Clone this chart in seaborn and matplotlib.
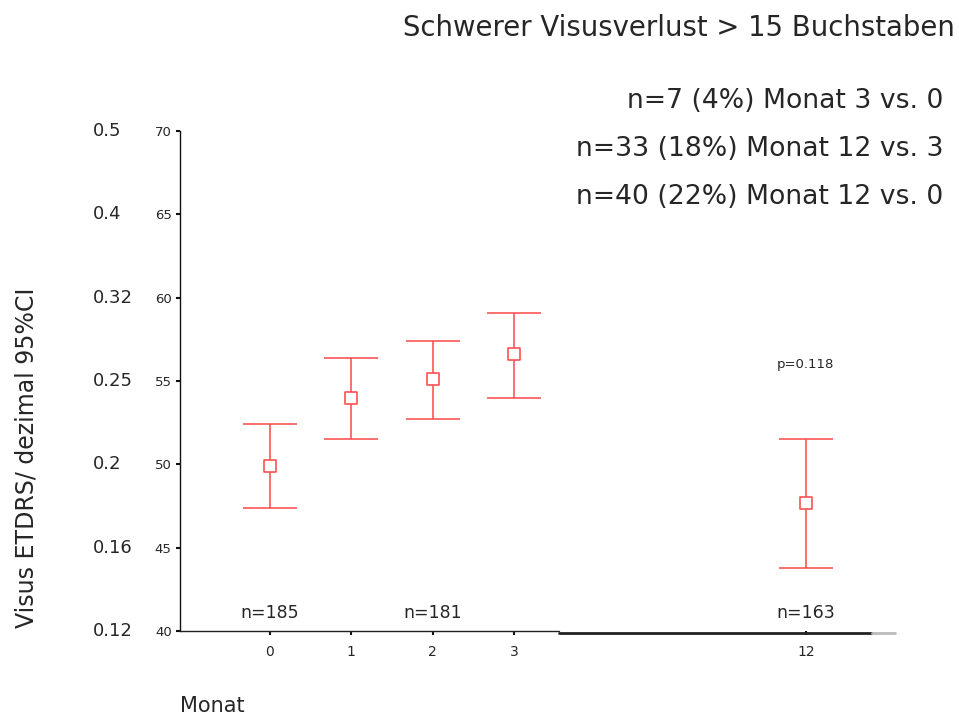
import matplotlib
matplotlib.use("Agg")
import matplotlib.pyplot as plt
import matplotlib.transforms as mtransforms
import seaborn as sns
import pandas as pd

# Visual acuity (ETDRS letters) per follow-up month with 95% CI
months = [0, 1, 2, 3, 12]
mean_letters = [49.9, 54.0, 55.1, 56.6, 47.7]
ci_low = [47.4, 51.5, 52.7, 54.0, 43.8]
ci_high = [52.4, 56.4, 57.4, 59.1, 51.5]

y_ticks = [40, 45, 50, 55, 60, 65, 70]
decimal_labels = ["0.12", "0.16", "0.2", "0.25", "0.32", "0.4", "0.5"]

n_labels = {0: "n=185", 2: "n=181", 12: "n=163"}
p_label = "p=0.118"

title = "Schwerer Visusverlust > 15 Buchstaben"
comparisons = [
    "n=7 (4%) Monat 3 vs. 0",
    "n=33 (18%) Monat 12 vs. 3",
    "n=40 (22%) Monat 12 vs. 0",
]


def month_pos(m):
    # broken time axis: months 0-3 evenly spaced, gap compressed afterwards
    return m if m <= 3 else 3 + (m - 3) * 0.399


sns.set_theme(style="white")
plt.rcParams["font.family"] = ["DejaVu Sans"]
TEXT = "#262626"
RED = "#ff5252"

fig = plt.figure(figsize=(9.59, 7.18), dpi=100)
ax = fig.add_axes([180 / 959, 87 / 718, 715 / 959, 500 / 718])

df = pd.DataFrame({
    "pos": [month_pos(m) for m in months],
    "mean": mean_letters,
    "lo": ci_low,
    "hi": ci_high,
})

ax.errorbar(df["pos"], df["mean"],
            yerr=[df["mean"] - df["lo"], df["hi"] - df["mean"]],
            fmt="none", ecolor=RED, elinewidth=1.3, capsize=19.5,
            capthick=1.3, alpha=0.9, zorder=2)
sns.scatterplot(data=df, x="pos", y="mean", marker="s", s=70,
                facecolor="white", edgecolor=RED, linewidth=1.2,
                ax=ax, zorder=3, legend=False)

x0 = -90 / 81.3
ax.set_xlim(x0, x0 + 715 / 81.3)
ax.set_ylim(40, 70)

# axes frame
for side in ["top", "right", "bottom"]:
    ax.spines[side].set_visible(False)
ax.spines["left"].set_color("#111111")
ax.spines["left"].set_linewidth(1.0)

ax.set_yticks(y_ticks)
ax.set_yticklabels([str(v) for v in y_ticks], fontsize=9.5, color=TEXT)
ax.set_xticks([month_pos(m) for m in months])
ax.set_xticklabels([str(m) for m in months], fontsize=10, color=TEXT)
ax.tick_params(axis="y", direction="out", length=3, width=1.5,
               color="#111111", pad=3, left=True)
ax.tick_params(axis="x", direction="out", length=3, width=1.5,
               color="#111111", pad=7, bottom=True)
ax.set_xlabel("")
ax.set_ylabel("")

# bottom axis line drawn in segments across the break
ax.plot([0, 0.530], [0, 0], transform=ax.transAxes, color="#222222",
        lw=1.0, clip_on=False, zorder=4)
ax.plot([0.530, 0.968], [-0.003, -0.003], transform=ax.transAxes,
        color="#222222", lw=2.0, clip_on=False, zorder=4)
ax.plot([0.968, 1.0], [-0.003, -0.003], transform=ax.transAxes,
        color="#bbbbbb", lw=2.0, clip_on=False, zorder=4)

# decimal acuity labels next to the letter scale
dec_tr = mtransforms.blended_transform_factory(fig.transFigure, ax.transData)
for v, lab in zip(y_ticks, decimal_labels):
    ax.text(93 / 959, v, lab, transform=dec_tr, ha="left", va="center",
            fontsize=13, color=TEXT)

# sample sizes above the time axis
for m, lab in n_labels.items():
    ax.text(month_pos(m), 41.05, lab, ha="center", va="center",
            fontsize=12.5, color=TEXT)

ax.text(month_pos(12), 56.0, p_label, ha="center", va="center",
        fontsize=9.5, color=TEXT)

fig.text(27 / 959, 1 - 458 / 718, "Visus ETDRS/ dezimal 95%CI",
         rotation=90, ha="center", va="center", fontsize=17, color=TEXT)
fig.text(180 / 959, 1 - 706 / 718, "Monat", ha="left", va="center",
         fontsize=15, color=TEXT)

fig.text(955 / 959, 1 - 28 / 718, title, ha="right", va="center",
         fontsize=19.8, color=TEXT)
for i, line in enumerate(comparisons):
    fig.text(943 / 959, 1 - (101 + 48 * i) / 718, line, ha="right",
             va="center", fontsize=19.2, color=TEXT)

fig.savefig("out.png", dpi=100)
